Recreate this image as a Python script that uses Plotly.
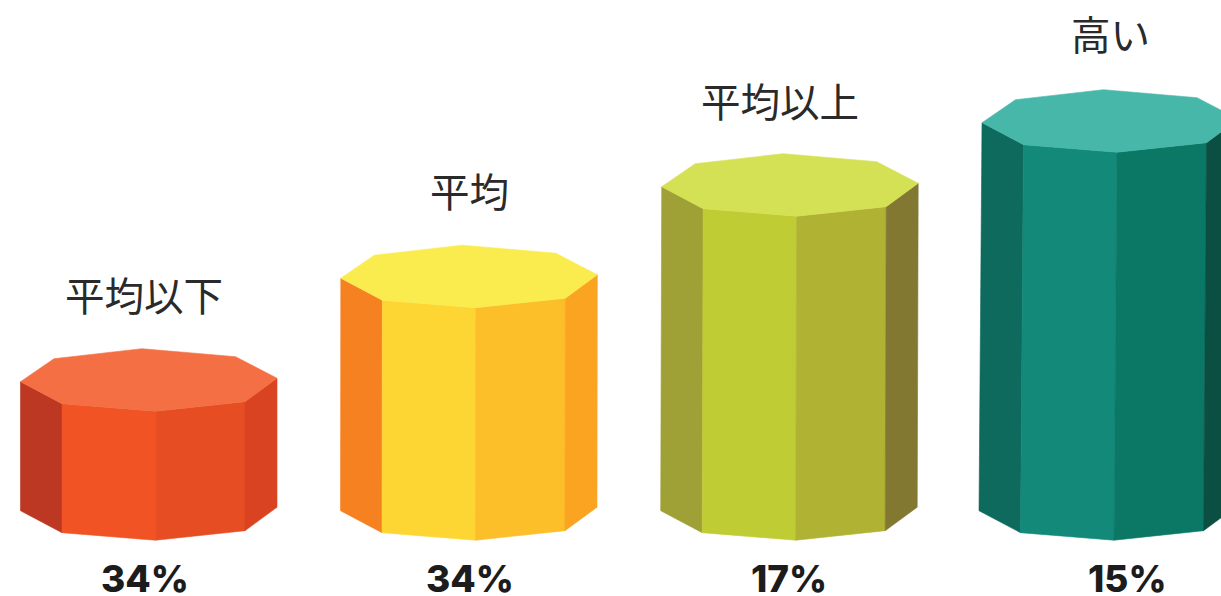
import plotly.graph_objects as go

# ---- data ----
categories = ["平均以下", "平均", "平均以上", "高い"]
percent_labels = ["34%", "34%", "17%", "15%"]
column_heights = [129, 232.5, 324, 388]   # drawn height of each prism

# ---- styling ----
top_colors = ["#F46F43", "#FAEC4F", "#D5E154", "#47B7A9"]
left_colors = ["#BC3823", "#F68121", "#9FA136", "#0D6A5D"]
front_left_colors = ["#F15324", "#FDD633", "#C0CC33", "#13897A"]
front_right_colors = ["#E64D22", "#FCBE29", "#B0B233", "#0B7866"]
right_colors = ["#DA4321", "#FBA421", "#837832", "#0A4F41"]

# ---- layout geometry ----
W, H = 1221, 596
BASE_PX = 510.7
column_left = [20.5, 340.5, 660.7, 979]
top_shift = [0, 0.3, 1, 3]
label_dx = [123, 128.5, 119.5, 131]
label_dy = [55.5, 55.5, 54.5, 57.5]
percent_dx = [124, 129, 128.5, 148]
octagon = [(0, 0), (33.5, 23), (121.5, 33), (215, 25), (256.5, 3.5),
           (224.5, -20), (135, -29.5), (41.5, -22)]

fig = go.Figure()


def poly(xs, ys, color):
    fig.add_trace(go.Scatter(
        x=xs + xs[:1], y=ys + ys[:1], mode="lines", fill="toself",
        fillcolor=color, line=dict(color=color, width=0.6),
        hoverinfo="skip", showlegend=False))


for i, cat in enumerate(categories):
    L, h, s = column_left[i], column_heights[i], top_shift[i]
    sides = [(7, 0, left_colors[i]), (7, 6, front_left_colors[i]),
             (6, 5, front_right_colors[i]), (5, 4, right_colors[i])]
    for a, b, c in sides:
        (ax, ay), (bx, by) = octagon[a], octagon[b]
        poly([L + s + ax, L + s + bx, L + bx, L + ax],
             [h + ay, h + by, by, ay], c)
    poly([L + s + dx for dx, _ in octagon], [h + dy for _, dy in octagon],
         top_colors[i])
    fig.add_annotation(x=L + label_dx[i], y=h + 33 + label_dy[i], text=cat, showarrow=False,
                       xanchor="center", yanchor="middle",
                       font=dict(family="Noto Sans CJK JP", size=39.5, color="#2a2a2a", weight=400))
    fig.add_annotation(x=L + percent_dx[i], y=BASE_PX - 578, text=percent_labels[i],
                       showarrow=False, xanchor="center", yanchor="middle",
                       font=dict(family="Inter", size=37, color="#1c1c1c", weight=800))

fig.update_layout(
    width=W, height=H, margin=dict(l=0, r=0, t=0, b=0),
    paper_bgcolor="white", plot_bgcolor="white", hovermode=False,
    xaxis=dict(range=[0, W], visible=False, fixedrange=True),
    yaxis=dict(range=[BASE_PX - H, BASE_PX], visible=False, fixedrange=True),
)
fig.write_html("out.html", config={"displayModeBar": False},
               post_script="document.body.style.margin='0';document.body.style.overflow='hidden';")
